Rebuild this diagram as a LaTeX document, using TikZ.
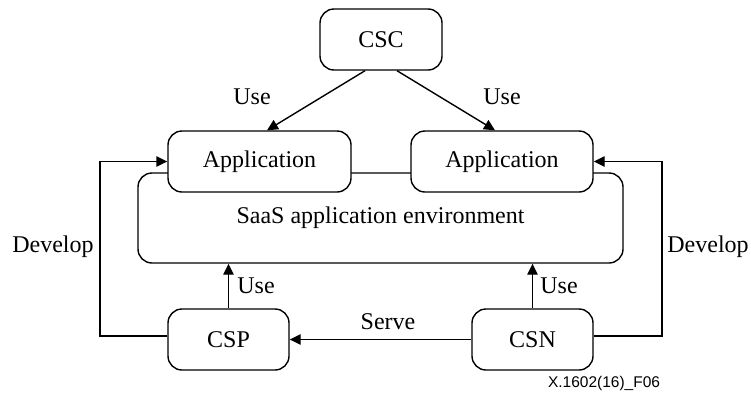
\documentclass[tikz,border=0pt]{standalone}
\usepackage{fontspec}
\setmainfont{Liberation Serif}
\newfontfamily\figfont{Liberation Sans}
\usetikzlibrary{arrows.meta}
\begin{document}
\begin{tikzpicture}[x=1pt,y=-1pt,
  line width=1.4pt,
  every node/.style={font=\fontsize{24}{28}\selectfont},
  box/.style={draw,rounded corners=14pt,fill=white,inner sep=0pt},
  lbl/.style={inner sep=0pt},
  arr/.style={-{Triangle[length=11pt,width=10.5pt]}}]
\useasboundingbox (0,0) rectangle (751,394);

% environment box and the elements on it
\node[box,minimum width=485pt,minimum height=90pt] (saas) at (380.5,218) {SaaS application environment};
\node[box,minimum width=122pt,minimum height=61pt] (csc) at (381,39.5) {CSC};
\node[box,minimum width=183pt,minimum height=61pt] (appl) at (259.5,161.5) {Application};
\node[box,minimum width=182pt,minimum height=61pt] (appr) at (502,161.5) {Application};
\node[box,minimum width=121pt,minimum height=61pt] (csp) at (228.5,339.5) {CSP};
\node[box,minimum width=121pt,minimum height=61pt] (csn) at (532.5,339.5) {CSN};

% bend points of the develop loops
\coordinate (dl) at (100,336);
\coordinate (dr) at (662,336);

% connectors
\draw[arr] ([xshift=-16pt]csc.south) -- ([xshift=7.5pt]appl.north);
\draw[arr] ([xshift=16pt]csc.south) -- ([xshift=-7pt]appr.north);
\draw[arr] (csp.north) -- (csp.north |- saas.south);
\draw[arr] (csn.north) -- (csn.north |- saas.south);
\draw[arr] (csn.west) -- (csp.east);
\draw[arr] ([yshift=3.5pt]csp.west) -- (dl) |- (appl.west);
\draw[arr] ([yshift=3.5pt]csn.east) -- (dr) |- (appr.east);

% labels
\node[lbl] (use1) at (252,97) {Use};
\node[lbl] (use2) at (502,97) {Use};
\node[lbl] (use3) at (256,286) {Use};
\node[lbl] (use4) at (559,286) {Use};
\node[lbl] (dev1) at (53,247) {Develop};
\node[lbl] (dev2) at (708,247) {Develop};
\node[lbl] (serve) at (388,322) {Serve};
\node[lbl,font=\figfont\fontsize{15.5}{18}\selectfont] (fig) at (604,383) {X.1602(16)\_F06};
\end{tikzpicture}
\end{document}
